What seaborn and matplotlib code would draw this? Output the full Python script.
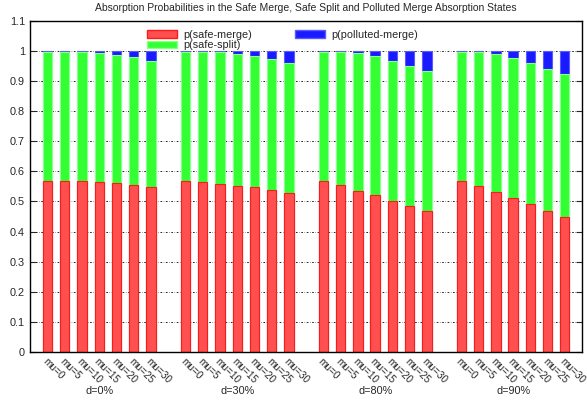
import numpy as np
import pandas as pd
import matplotlib
matplotlib.use('Agg')
import matplotlib.pyplot as plt
from matplotlib.patches import Patch
from matplotlib.ticker import FormatStrFormatter
import seaborn as sns

# data
groups = ['d=0%', 'd=30%', 'd=80%', 'd=90%']
mus = ['mu=0', 'mu=5', 'mu=10', 'mu=15', 'mu=20', 'mu=25', 'mu=30']

safe_merge = [
    [0.568, 0.568, 0.567, 0.565, 0.561, 0.556, 0.548],
    [0.568, 0.565, 0.559, 0.553, 0.547, 0.539, 0.529],
    [0.568, 0.555, 0.535, 0.520, 0.500, 0.485, 0.467],
    [0.568, 0.550, 0.530, 0.510, 0.490, 0.468, 0.448],
]
safe_split = [
    [0.430, 0.430, 0.431, 0.428, 0.427, 0.423, 0.419],
    [0.430, 0.433, 0.437, 0.437, 0.436, 0.434, 0.431],
    [0.429, 0.442, 0.458, 0.463, 0.467, 0.465, 0.466],
    [0.429, 0.447, 0.460, 0.467, 0.470, 0.472, 0.475],
]
polluted_merge = [
    [0.002, 0.002, 0.002, 0.007, 0.012, 0.021, 0.033],
    [0.002, 0.002, 0.004, 0.010, 0.017, 0.027, 0.040],
    [0.003, 0.003, 0.007, 0.017, 0.033, 0.050, 0.067],
    [0.003, 0.003, 0.010, 0.023, 0.040, 0.060, 0.077],
]

# build long table, one slot per bar and an empty slot between groups
rows = []
for g, gname in enumerate(groups):
    for m, mname in enumerate(mus):
        sm = safe_merge[g][m]
        ss = safe_split[g][m]
        pm = polluted_merge[g][m]
        rows.append({'group': gname, 'mu': mname, 'pos': g * 8 + m,
                     'merge': sm, 'split_top': sm + ss, 'total': sm + ss + pm})
df = pd.DataFrame(rows)

sns.set_style('ticks')
plt.rcParams['font.family'] = ['Liberation Sans', 'DejaVu Sans']

red_fill, red_edge = '#ff4f4f', '#ff1a1a'
green_fill, green_edge = '#33ff33', '#8cff8c'
blue_fill, blue_edge = '#1a1aff', '#5a5aff'

fig = plt.figure(figsize=(5.87, 4.04), dpi=100)
ax = fig.add_axes([0.051, 0.129, 0.940, 0.819])

# stacked look: draw totals first, then cover with lower layers
sns.barplot(data=df, x='pos', y='total', native_scale=True, width=0.54,
            color=blue_fill, edgecolor=blue_edge, linewidth=0.8,
            saturation=1, errorbar=None, ax=ax)
sns.barplot(data=df, x='pos', y='split_top', native_scale=True, width=0.54,
            color=green_fill, edgecolor=green_edge, linewidth=0.8,
            saturation=1, errorbar=None, ax=ax)
sns.barplot(data=df, x='pos', y='merge', native_scale=True, width=0.54,
            color=red_fill, edgecolor=red_edge, linewidth=0.8,
            saturation=1, errorbar=None, ax=ax)

ax.set_xlim(-1.02, 30.98)
ax.set_ylim(0, 1.1)
ax.set_yticks(np.arange(0, 1.11, 0.1))
ax.yaxis.set_major_formatter(FormatStrFormatter('%g'))
ax.set_xticks(df['pos'])
ax.set_xticklabels(df['mu'], rotation=-45, ha='left', va='top',
                   rotation_mode='anchor', fontsize=7.2)
ax.tick_params(axis='x', length=0, pad=3)
ax.tick_params(axis='y', direction='in', right=True, length=4,
               labelsize=7.8, width=0.8)
ax.set_xlabel('')
ax.set_ylabel('')
for s in ax.spines.values():
    s.set_visible(True)
    s.set_linewidth(1.0)
    s.set_color('black')

ax.yaxis.grid(True, color='black', linestyle=(0, (2, 2, 0.5, 2)), linewidth=0.6)
ax.set_axisbelow(True)

# group labels under each block of bars
for g, gname in enumerate(groups):
    ax.text(g * 8 + 3, -0.102, gname, ha='center', va='top',
            fontsize=7.8, transform=ax.get_xaxis_transform())

ax.set_title('Absorption Probabilities in the Safe Merge, Safe Split and Polluted Merge Absorption States',
             fontsize=7.5, pad=7)

handles = [Patch(facecolor=red_fill, edgecolor=red_edge, label='p(safe-merge)'),
           Patch(facecolor=green_fill, edgecolor=green_edge, label='p(safe-split)'),
           Patch(facecolor=blue_fill, edgecolor=blue_edge, label='p(polluted-merge)')]
fig.legend(handles=handles, ncol=2, loc='upper left',
           bbox_to_anchor=(0.242, 0.940), frameon=False, fontsize=7.8,
           handlelength=2.7, handleheight=0.7, columnspacing=4.0,
           handletextpad=0.6, labelspacing=0.05, borderpad=0)

fig.savefig('out.png', dpi=100)
